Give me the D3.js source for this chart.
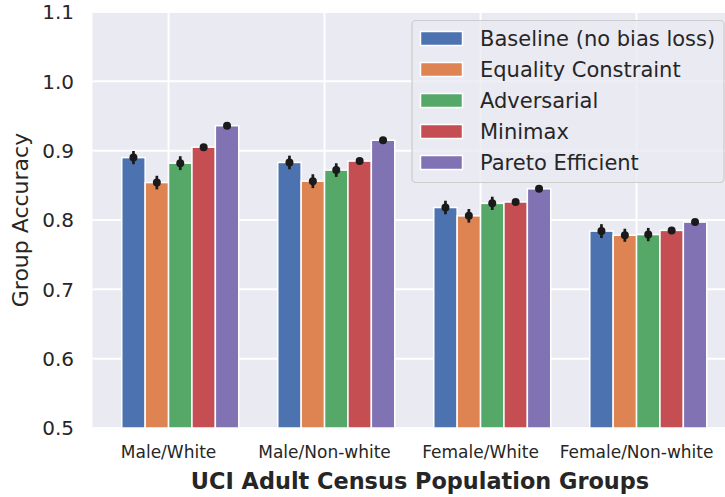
<!DOCTYPE html>
<html>
<head>
<meta charset="utf-8">
<script src="https://cdn.jsdelivr.net/npm/d3@7"></script>
<style>
  html, body { margin: 0; padding: 0; background: #ffffff; }
  svg { display: block; font-family: "DejaVu Sans", sans-serif; }
</style>
</head>
<body>
<svg id="chart" width="725" height="497"></svg>
<script>
// Population groups on the x axis
const categories = ["Male/White", "Male/Non-white", "Female/White", "Female/Non-white"];

// Training methods (one bar per group)
const methods = ["Baseline (no bias loss)", "Equality Constraint", "Adversarial", "Minimax", "Pareto Efficient"];

// Mean group accuracy per method
const baseline    = [0.890, 0.883, 0.818, 0.784];
const equality    = [0.854, 0.856, 0.806, 0.778];
const adversarial = [0.882, 0.872, 0.824, 0.779];
const minimax     = [0.905, 0.885, 0.826, 0.785];
const pareto      = [0.936, 0.915, 0.845, 0.797];

// Error half-widths
const baselineErr    = [0.0095, 0.0098, 0.0098, 0.0100];
const equalityErr    = [0.0098, 0.0100, 0.0098, 0.0094];
const adversarialErr = [0.0100, 0.0098, 0.0096, 0.0096];
const minimaxErr     = [0, 0, 0, 0];
const paretoErr      = [0, 0, 0, 0];

const yTicks = [0.5, 0.6, 0.7, 0.8, 0.9, 1.0, 1.1];

const colors = ["#4C72B0", "#DD8452", "#55A868", "#C44E52", "#8172B3"];
const seriesValues = [baseline, equality, adversarial, minimax, pareto];
const seriesErrors = [baselineErr, equalityErr, adversarialErr, minimaxErr, paretoErr];

const barWidth = 0.15;   // in x-data units
const svg = d3.select("#chart");

const plot = { left: 92.5, right: 736, top: 12, bottom: 428 };

const x = d3.scaleLinear().domain([-0.4875, 3.6375]).range([plot.left, plot.right]);
const y = d3.scaleLinear().domain([0.5, 1.1]).range([plot.bottom, plot.top]);

const textColor = "#262626";

// Axes background
svg.append("rect")
  .attr("x", plot.left).attr("y", plot.top)
  .attr("width", plot.right - plot.left).attr("height", plot.bottom - plot.top)
  .attr("fill", "#EAEAF2");

// Grid
const grid = svg.append("g");
grid.selectAll("line.h").data(yTicks).join("line")
  .attr("x1", plot.left).attr("x2", plot.right)
  .attr("y1", d => y(d)).attr("y2", d => y(d))
  .attr("stroke", "#ffffff").attr("stroke-width", 2);
grid.selectAll("line.v").data(categories).join("line")
  .attr("x1", (d, i) => x(i)).attr("x2", (d, i) => x(i))
  .attr("y1", plot.top).attr("y2", plot.bottom)
  .attr("stroke", "#ffffff").attr("stroke-width", 2);

// Bars
const rows = [];
seriesValues.forEach((vals, k) => {
  vals.forEach((v, i) => {
    rows.push({ k, i, v, e: seriesErrors[k][i] });
  });
});

svg.append("g").selectAll("rect").data(rows).join("rect")
  .attr("x", d => x(d.i + (d.k - 2) * barWidth))
  .attr("width", d => x(d.i + (d.k - 1) * barWidth) - x(d.i + (d.k - 2) * barWidth))
  .attr("y", d => y(d.v))
  .attr("height", d => y(0.5) - y(d.v))
  .attr("fill", d => colors[d.k])
  .attr("stroke", "#ffffff").attr("stroke-width", 1.5);

// Error bars with point markers
const eb = svg.append("g");
const cx = d => x(d.i + (d.k - 1.5) * barWidth);
eb.selectAll("line").data(rows.filter(d => d.e > 0)).join("line")
  .attr("x1", cx).attr("x2", cx)
  .attr("y1", d => y(d.v - d.e)).attr("y2", d => y(d.v + d.e))
  .attr("stroke", "#1a1a1a").attr("stroke-width", 2.7);
eb.selectAll("circle").data(rows).join("circle")
  .attr("cx", cx).attr("cy", d => y(d.v)).attr("r", 4)
  .attr("fill", "#1a1a1a");

// Y tick labels
svg.append("g").selectAll("text").data(yTicks).join("text")
  .attr("x", 74).attr("y", d => y(d)).attr("dy", "0.36em")
  .attr("text-anchor", "end")
  .attr("font-size", 20).attr("fill", textColor)
  .text(d => d.toFixed(1));

// X tick labels
svg.append("g").selectAll("text").data(categories).join("text")
  .attr("x", (d, i) => x(i)).attr("y", 458)
  .attr("text-anchor", "middle")
  .attr("font-size", 17).attr("fill", textColor)
  .text(d => d);

// Axis titles
svg.append("text")
  .attr("transform", `translate(28,${(plot.top + plot.bottom) / 2}) rotate(-90)`)
  .attr("text-anchor", "middle")
  .attr("font-size", 22).attr("fill", textColor)
  .text("Group Accuracy");

svg.append("text")
  .attr("x", 420).attr("y", 489)
  .attr("text-anchor", "middle")
  .attr("font-size", 22.4).attr("font-weight", "bold").attr("fill", textColor)
  .text("UCI Adult Census Population Groups");

// Legend
const legend = svg.append("g");
legend.append("rect")
  .attr("x", 412).attr("y", 20.5).attr("width", 312).attr("height", 162)
  .attr("rx", 4)
  .attr("fill", "#EAEAF2").attr("fill-opacity", 0.8)
  .attr("stroke", "#CCCCCC").attr("stroke-width", 1.2);
const item = legend.selectAll("g.item").data(methods).join("g")
  .attr("transform", (d, i) => `translate(0,${38.5 + i * 31})`);
item.append("rect")
  .attr("x", 420.5).attr("y", -7).attr("width", 42).attr("height", 14)
  .attr("fill", (d, i) => colors[i])
  .attr("stroke", "#ffffff").attr("stroke-width", 1.5);
item.append("text")
  .attr("x", 480).attr("y", 0).attr("dy", "0.36em")
  .attr("font-size", 21).attr("fill", textColor)
  .text(d => d);
</script>
</body>
</html>
